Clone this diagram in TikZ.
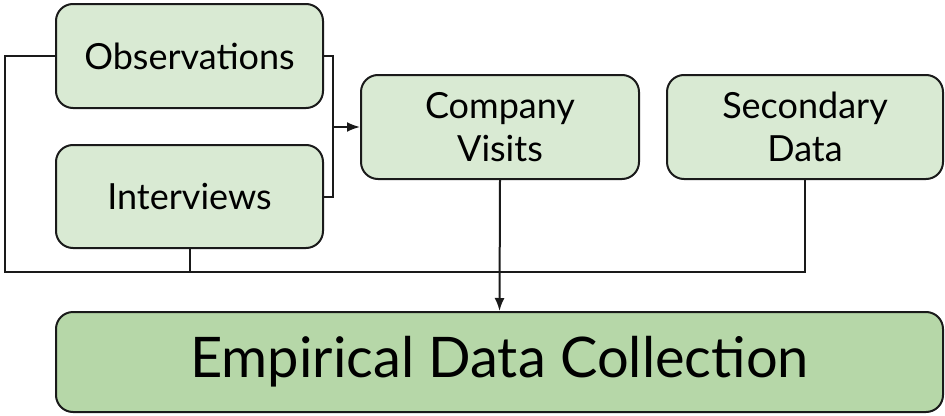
\documentclass[tikz,border=0pt]{standalone}
\usepackage{fontspec}
\setmainfont{Lato}
\usetikzlibrary{arrows.meta}
\definecolor{boxfill}{HTML}{D9EAD3}
\definecolor{bigfill}{HTML}{B6D7A8}
\definecolor{edge}{HTML}{1A1A1A}
\begin{document}
\begin{tikzpicture}[x=1pt,y=-1pt,
  srcbox/.style={draw=edge, line width=2pt, fill=boxfill, rounded corners=17pt,
    align=center, inner sep=0pt, font=\fontsize{36}{43}\selectfont},
  mainbox/.style={draw=edge, line width=2pt, fill=bigfill, rounded corners=17pt,
    align=center, inner sep=0pt, font=\fontsize{56}{60}\selectfont},
  link/.style={draw=edge, line width=2pt},
  arr/.style={link, -{Latex[length=13pt,width=10pt]}}]
\useasboundingbox (0,0) rectangle (945,415);

\node[srcbox, minimum width=267pt, minimum height=104pt] (obs) at (189.5,56) {Observations};
\node[srcbox, minimum width=267pt, minimum height=103pt] (int) at (189.5,196.5) {Interviews};
\node[srcbox, minimum width=278pt, minimum height=104pt] (cv) at (500,127) {Company\\Visits};
\node[srcbox, minimum width=276pt, minimum height=104pt] (sd) at (805,127) {Secondary\\Data};
\node[mainbox, minimum width=887pt, minimum height=100pt] (edc) at (499.5,362) {Empirical Data Collection};

% collecting bus under the source boxes
\coordinate (lft) at (5,272);
\coordinate (jn) at (333,127);
\draw[link] (obs.west) -| (lft) -- (lft -| sd.south) -- (sd.south);
\draw[link] (int.south) -- (int.south |- lft);

% bracket joining observations and interviews into company visits
\draw[link] (obs.east) -| (jn) |- (int.east);
\draw[arr] (jn) -- (cv.west);

% company visits down to the collection box
\draw[arr] (cv.south) -- (edc.north);
\end{tikzpicture}
\end{document}
